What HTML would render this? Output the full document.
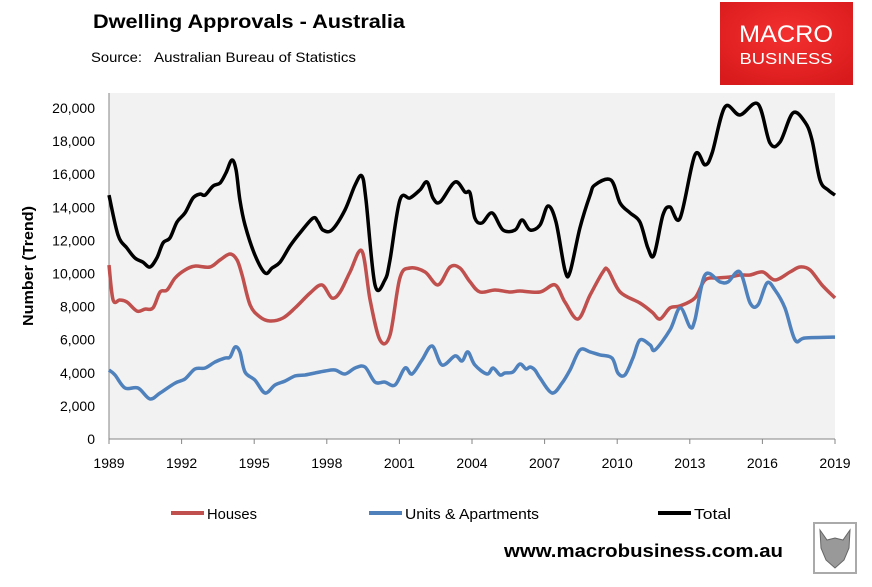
<!DOCTYPE html>
<html><head><meta charset="utf-8">
<style>
html,body{margin:0;padding:0;background:#fff;}
svg{display:block;font-family:"Liberation Sans",sans-serif;}
</style></head>
<body>
<svg id="chart" width="872" height="587" viewBox="0 0 872 587" xmlns="http://www.w3.org/2000/svg">
  <text x="93" y="28" font-size="19" font-weight="bold" textLength="312" lengthAdjust="spacingAndGlyphs" fill="#000">Dwelling Approvals - Australia</text>
  <text x="91" y="62" font-size="14" textLength="51" lengthAdjust="spacingAndGlyphs" fill="#000">Source:</text>
  <text x="154" y="62" font-size="14" textLength="202" lengthAdjust="spacingAndGlyphs" fill="#000">Australian Bureau of Statistics</text>
  <g>
    <defs><radialGradient id="lg" cx="50%" cy="40%" r="70%"><stop offset="0" stop-color="#f4302f"/><stop offset="1" stop-color="#d81a1c"/></radialGradient></defs>
    <rect x="720" y="2" width="133" height="83" fill="url(#lg)"/>
    <text x="786" y="42" font-size="24" fill="#fff" text-anchor="middle" textLength="94" lengthAdjust="spacingAndGlyphs">MACRO</text>
    <text x="786" y="64" font-size="16" fill="#fff" text-anchor="middle" textLength="93" lengthAdjust="spacingAndGlyphs">BUSINESS</text>
  </g>
  <rect x="109" y="93" width="726" height="346" fill="#f2f2f2"/>
  <g id="axes"></g>
  <g id="series"></g>
  <text transform="translate(33,266) rotate(-90)" font-size="15" font-weight="bold" text-anchor="middle" textLength="120" lengthAdjust="spacingAndGlyphs">Number (Trend)</text>
  <g id="legend"></g>
  <text x="504" y="557" font-size="18" font-weight="bold" textLength="279" lengthAdjust="spacingAndGlyphs">www.macrobusiness.com.au</text>
  <g>
    <rect x="814" y="523" width="42" height="50" fill="#fff" stroke="#aaa" stroke-width="2"/>
    <path d="M820 530 L827 540 L835 538 L843 540 L850 530 L849 548 L844 560 L835 568 L826 560 L821 548 Z" fill="#999" stroke="#666" stroke-width="1"/>
  </g>
</svg>
<script>
const years = [1989,1992,1995,1998,2001,2004,2007,2010,2013,2016,2019];
const yTicks = [0,2000,4000,6000,8000,10000,12000,14000,16000,18000,20000];
const totalPx = [[109,195],[118,235],[127,248],[135,258],[143,262],[150,267],[157,258],[163,243],[170,238],[177,222],[185,213],[193,198],[200,194],[205,195],[213,186],[220,183],[226,173],[232,160],[236,170],[240,200],[245,225],[255,255],[265,273],[272,268],[280,262],[290,246],[300,233],[313,218],[318,222],[323,230],[332,230],[345,210],[355,185],[362,176],[366,200],[375,285],[385,280],[390,260],[400,200],[410,198],[420,190],[427,182],[433,198],[440,202],[455,182],[465,192],[470,193],[475,218],[482,223],[492,213],[503,230],[515,230],[522,220],[530,230],[540,225],[548,206],[556,222],[565,270],[570,272],[580,228],[590,195],[595,185],[611,180],[620,203],[630,213],[640,222],[648,248],[654,255],[663,215],[670,207],[680,218],[695,155],[705,165],[712,153],[725,107],[740,115],[758,104],[770,143],[780,142],[793,113],[805,122],[812,140],[820,180],[828,190],[835,195]];
const housesPx = [[109,265],[113,300],[120,300],[127,302],[137,311],[145,309],[153,308],[160,292],[167,290],[175,278],[185,270],[195,266],[210,267],[220,260],[230,254],[237,260],[242,275],[250,305],[260,317],[270,321],[283,318],[295,308],[310,293],[322,285],[332,298],[340,292],[350,272],[362,251],[370,300],[380,340],[390,335],[400,278],[410,268],[425,272],[438,285],[450,267],[460,268],[470,282],[480,292],[495,290],[510,292],[520,291],[540,292],[555,285],[565,302],[578,319],[590,295],[603,272],[608,270],[620,292],[640,303],[652,312],[660,319],[670,308],[680,306],[695,298],[705,280],[718,278],[730,277],[740,275],[750,275],[763,272],[775,280],[790,272],[800,267],[810,270],[822,285],[835,298]];
const unitsPx = [[109,370],[115,375],[125,388],[138,388],[150,399],[160,393],[175,383],[185,379],[195,369],[205,368],[215,362],[225,358],[230,357],[235,347],[240,352],[245,372],[255,380],[265,393],[275,385],[285,381],[295,376],[305,375],[315,373],[325,371],[335,370],[345,374],[355,368],[365,367],[375,382],[385,382],[395,385],[405,368],[412,374],[422,360],[432,346],[442,365],[455,356],[462,361],[468,352],[475,365],[487,374],[493,368],[500,375],[505,373],[513,372],[520,364],[526,369],[530,367],[535,370],[540,378],[552,393],[562,383],[570,370],[580,350],[590,352],[600,355],[612,358],[618,373],[625,375],[633,358],[640,340],[650,345],[655,350],[670,330],[680,308],[690,327],[695,320],[705,275],[720,282],[728,282],[740,272],[750,303],[758,305],[767,283],[775,290],[785,308],[795,340],[805,338],[835,337]];
function toData(a){return a.map(p=>[+(1989+(p[0]-109)/24.2).toFixed(2), Math.round((439-p[1])*20000/331/10)*10]);}
const totalData = toData(totalPx);
const housesData = toData(housesPx);
const unitsData = toData(unitsPx);

const X0=109,X1=835,Y0=439,Y1=108;
const xScale = y => X0+(y-1989)/(2019-1989)*(X1-X0);
const yScale = v => Y0-v/20000*(Y0-Y1);
const NS="http://www.w3.org/2000/svg";
function mk(tag,attrs,parent){const e=document.createElementNS(NS,tag);for(const k in attrs)e.setAttribute(k,attrs[k]);parent.appendChild(e);return e;}
const axes=document.getElementById('axes');
const ya=mk('line',{x1:X0,y1:93,x2:X0,y2:Y0,stroke:'#868686','stroke-width':1},axes);


const xa=mk('line',{x1:X0,y1:Y0,x2:X1,y2:Y0,stroke:'#868686','stroke-width':1},axes);


yTicks.forEach(v=>{
  const t=mk('text',{x:95,y:yScale(v)+5,'font-size':14,'text-anchor':'end'},axes);
  t.textContent=v.toLocaleString('en-US');
  
  
});
years.forEach(yr=>{
  const x=xScale(yr);
  const tk=mk('line',{x1:x,y1:Y0,x2:x,y2:Y0+5,stroke:'#868686'},axes);
  
  
  const t=mk('text',{x:x,y:468,'font-size':14,'text-anchor':'middle'},axes);
  t.textContent=yr;
  
  
});
function pathD(data){
  const p=data.map(d=>[xScale(d[0]),yScale(d[1])]);
  let d='M'+p[0][0].toFixed(1)+' '+p[0][1].toFixed(1);
  for(let i=0;i<p.length-1;i++){
    const p0=p[i-1]||p[i],p1=p[i],p2=p[i+1],p3=p[i+2]||p2;
    const c1=[p1[0]+(p2[0]-p0[0])/6,p1[1]+(p2[1]-p0[1])/6];
    const c2=[p2[0]-(p3[0]-p1[0])/6,p2[1]-(p3[1]-p1[1])/6];
    d+=' C'+c1[0].toFixed(1)+' '+c1[1].toFixed(1)+' '+c2[0].toFixed(1)+' '+c2[1].toFixed(1)+' '+p2[0].toFixed(1)+' '+p2[1].toFixed(1);
  }
  return d;
}
const ser=document.getElementById('series');
const s1=mk('path',{d:pathD(housesData),fill:'none',stroke:'#c0504d','stroke-width':3.5,'stroke-linejoin':'round'},ser);


const s2=mk('path',{d:pathD(unitsData),fill:'none',stroke:'#4f81bd','stroke-width':3.5,'stroke-linejoin':'round'},ser);


const s3=mk('path',{d:pathD(totalData),fill:'none',stroke:'#000','stroke-width':3.5,'stroke-linejoin':'round'},ser);


const leg=document.getElementById('legend');
[['Houses','#c0504d',171,'legend-houses',50],['Units & Apartments','#4f81bd',369,'legend-units-apartments',134],['Total','#000',658,'legend-total',37]].forEach(l=>{
  const g=mk('g',{},leg);
  
  
  mk('line',{x1:l[2],y1:513,x2:l[2]+33,y2:513,stroke:l[1],'stroke-width':4},g);
  const t=mk('text',{x:l[2]+36,y:519,'font-size':15,textLength:l[4],lengthAdjust:'spacingAndGlyphs'},g);
  t.textContent=l[0];
});
</script>
</body></html>
